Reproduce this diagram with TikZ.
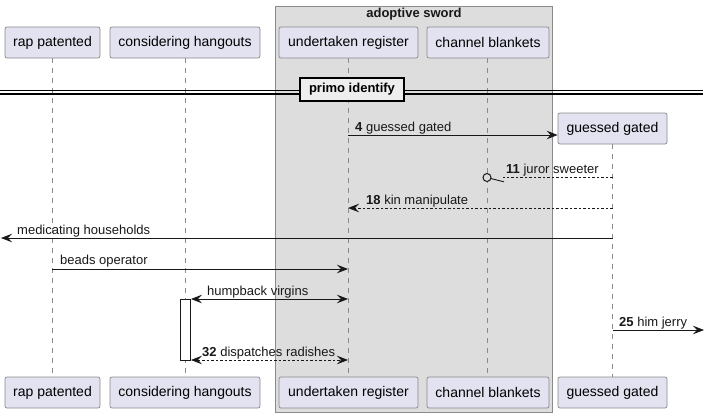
\documentclass[tikz,border=0pt]{standalone}
\usepackage{fontspec}
\setmainfont{Liberation Sans}
\usetikzlibrary{arrows.meta}
\definecolor{partfill}{HTML}{E2E2F0}
\definecolor{partdraw}{HTML}{8A8A8A}
\definecolor{groupfill}{HTML}{DDDDDD}
\definecolor{divfill}{HTML}{EEEEEE}
\definecolor{ink}{HTML}{181818}
\begin{document}
\begin{tikzpicture}[x=1pt,y=-1pt,
  part/.style={draw=partdraw, fill=partfill, rounded corners=2pt, minimum height=31pt, inner sep=0pt, font=\fontsize{14}{16}\selectfont, line width=0.7pt},
  life/.style={draw=partdraw, dash pattern=on 5pt off 5pt, line width=0.7pt},
  msg/.style={draw=ink, line width=0.9pt, -{Stealth[length=11pt,width=8.5pt,inset=4pt]}},
  bimsg/.style={draw=ink, line width=0.9pt, {Stealth[length=11pt,width=8.5pt,inset=4pt]}-{Stealth[length=11pt,width=8.5pt,inset=4pt]}},
  ret/.style={dash pattern=on 2.5pt off 2pt},
  lbl/.style={anchor=base west, inner sep=0pt, font=\fontsize{13}{15}\selectfont, text=ink},
  grp/.style={draw=partdraw, fill=groupfill, line width=0.8pt},
]
\useasboundingbox (0,0) rectangle (710,418);
% group box
\node[grp, minimum width=277pt, minimum height=406pt, inner sep=0pt] (grpbox) at (413.5,209.5) {};
\node[font=\bfseries\fontsize{13}{15}\selectfont, inner sep=0pt, text=ink] (grptitle) at (414,14) {adoptive sword};
% lifelines
\coordinate (rpA) at (52,58); \coordinate (rpB) at (52,377);
\coordinate (chA) at (185,58); \coordinate (chB) at (185,377);
\coordinate (urA) at (348,58); \coordinate (urB) at (348,377);
\coordinate (cbA) at (487,58); \coordinate (cbB) at (487,377);
\coordinate (ggA) at (612.5,144); \coordinate (ggB) at (612.5,377);
\draw[life] (rpA) -- (rpB);
\draw[life] (chA) -- (chB);
\draw[life] (urA) -- (urB);
\draw[life] (cbA) -- (cbB);
\draw[life] (ggA) -- (ggB);
% participants top
\node[part, minimum width=95pt] (rpT) at (52.5,42.5) {rap patented};
\node[part, minimum width=150pt] (chT) at (185,42.5) {considering hangouts};
\node[part, minimum width=139pt] (urT) at (348.5,42.5) {undertaken register};
\node[part, minimum width=122pt] (cbT) at (488,42.5) {channel blankets};
\node[part, minimum width=109pt] (ggT) at (612.5,128.5) {guessed gated};
% participants bottom
\node[part, minimum width=95pt] (rpB2) at (52.5,392.5) {rap patented};
\node[part, minimum width=150pt] (chB2) at (185,392.5) {considering hangouts};
\node[part, minimum width=139pt] (urB2) at (348.5,392.5) {undertaken register};
\node[part, minimum width=122pt] (cbB2) at (488,392.5) {channel blankets};
\node[part, minimum width=109pt] (ggB2) at (612.5,392.5) {guessed gated};
% divider
\coordinate (dL1) at (0,90.5); \coordinate (dR1) at (703,90.5);
\coordinate (dL2) at (0,94); \coordinate (dR2) at (703,94);
\draw[line width=1.3pt, black] (dL1) -- (dR1);
\draw[line width=1.3pt, black] (dL2) -- (dR2);
\node[draw=black, fill=divfill, line width=2pt, minimum width=104pt, minimum height=23pt, inner sep=0pt, font=\bfseries\fontsize{13}{15}\selectfont] (div) at (352,89.5) {primo identify};
% message 4
\coordinate (m4a) at (348,135);
\draw[msg] (m4a) -- (ggT.west |- m4a);
\node[lbl] (l4) at (355,131) {\textbf{4} guessed gated};
% message 11 (lost, circle end)
\coordinate (m11a) at (612.5,177.5);
\coordinate (m11b) at (503,177.5);
\coordinate (m11c) at (487,177.5);
\coordinate (m11s) at (490,178.3);
\coordinate (m11t) at (504,181.8);
\draw[draw=ink, line width=0.9pt, ret] (m11a) -- (m11b);
\draw[draw=ink, line width=0.9pt] (m11s) -- (m11t);
\node[draw=ink, line width=1pt, circle, minimum size=8pt, inner sep=0pt, fill=groupfill] (m11o) at (m11c) {};
\node[lbl] (l11) at (506,173) {\textbf{11} juror sweeter};
% message 18
\coordinate (m18a) at (612.5,208);
\coordinate (m18b) at (348,208);
\draw[msg, ret] (m18a) -- (m18b);
\node[lbl] (l18) at (366,204) {\textbf{18} kin manipulate};
% medicating households
\coordinate (mhA) at (612.5,238);
\coordinate (mhB) at (1,238);
\draw[msg] (mhA) -- (mhB);
\node[lbl] (lmh) at (17,234) {medicating households};
% beads operator
\coordinate (boA) at (52,269);
\coordinate (boB) at (348,269);
\draw[msg] (boA) -- (boB);
\node[lbl] (lbo) at (60,264.5) {beads operator};
% activation
\node[draw=ink, fill=white, line width=0.9pt, minimum width=10.5pt, minimum height=61pt, inner sep=0pt] (act) at (185.25,329.5) {};
% humpback virgins
\coordinate (hvB) at (348,299);
\draw[bimsg] (act.east |- hvB) -- (hvB);
\node[lbl] (lhv) at (207,295) {humpback virgins};
% him jerry
\coordinate (hjA) at (612.5,330);
\coordinate (hjB) at (704,330);
\draw[msg] (hjA) -- (hjB);
\node[lbl] (lhj) at (619,326) {\textbf{25} him jerry};
% dispatches radishes
\coordinate (drB) at (348,360);
\draw[bimsg, ret] (act.east |- drB) -- (drB);
\node[lbl] (ldr) at (202,356) {\textbf{32} dispatches radishes};
\end{tikzpicture}
\end{document}
